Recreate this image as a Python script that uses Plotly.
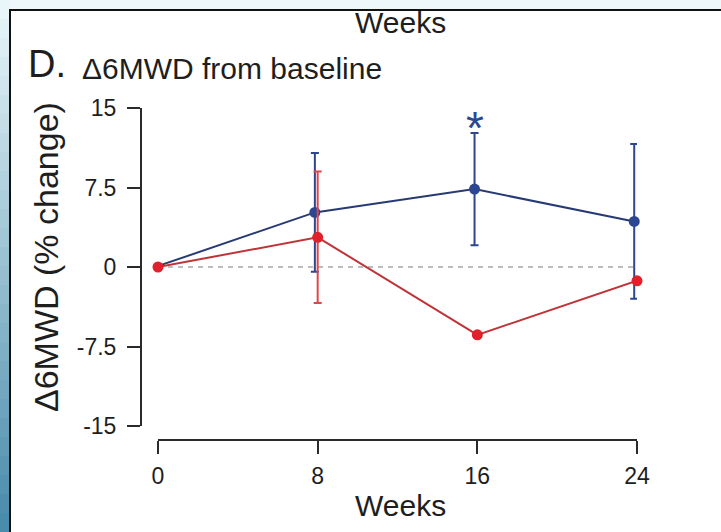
import plotly.graph_objects as go

# ---------------- data ----------------
weeks = [0, 8, 16, 24]
blue_mean = [0.0, 5.15, 7.35, 4.3]
blue_err = [None, 5.6, 5.3, 7.3]
red_mean = [0.0, 2.8, -6.4, -1.3]
red_err = [None, 6.2, None, None]
x_tick_labels = ["0", "8", "16", "24"]
y_tick_vals = [-15, -7.5, 0, 7.5, 15]
y_tick_labels = ["-15", "-7.5", "0", "7.5", "15"]
signif_week = 16

# ---------------- style ----------------
W, H = 721, 532
BLUE = "#2c4690"
BLUE_LINE = "#283a74"
RED = "#e0202a"
RED_LINE = "#bf3439"
AXIS = "#2a2a2a"
TXT = "#1e1e1e"
FONT = "Liberation Sans, Arial, sans-serif"
dodge_blue, dodge_red = -0.14, 0.0


def px(x):
    return x / W


def py(y):
    return 1 - y / H


fig = go.Figure()

fig.add_trace(go.Scatter(
    x=[w + dodge_blue for w in weeks], y=blue_mean,
    mode="lines+markers",
    line=dict(color=BLUE_LINE, width=2),
    marker=dict(color=BLUE, size=11),
    error_y=dict(type="data", array=blue_err, visible=True,
                 color=BLUE, thickness=2, width=4),
    cliponaxis=False, showlegend=False))

fig.add_trace(go.Scatter(
    x=[w + dodge_red for w in weeks], y=red_mean,
    mode="lines+markers",
    line=dict(color=RED_LINE, width=2),
    marker=dict(color=RED, size=11),
    error_y=dict(type="data", array=red_err, visible=True,
                 color="#e0454a", thickness=2, width=4),
    cliponaxis=False, showlegend=False))

shapes = []
# left gradient strip
n = 28
c_top = (232, 245, 249)
c_bot = (74, 140, 171)
for i in range(n):
    t = i / (n - 1)
    c = tuple(int(c_top[k] + (c_bot[k] - c_top[k]) * t) for k in range(3))
    shapes.append(dict(type="rect", xref="paper", yref="paper",
                       x0=-0.01, x1=px(10), y0=1 - (i + 1) / n, y1=1 - i / n,
                       fillcolor="rgb(%d,%d,%d)" % c, line=dict(width=0),
                       layer="below"))
# white panel with border
shapes.append(dict(type="rect", xref="paper", yref="paper",
                   x0=px(10), x1=1.02, y0=-0.02, y1=py(10),
                   fillcolor="white", line=dict(color="#111111", width=2),
                   layer="below"))
# dashed zero line
shapes.append(dict(type="line", xref="x", yref="y",
                   x0=weeks[0], x1=weeks[-1], y0=0, y1=0,
                   line=dict(color="#a8a8a8", width=1.3, dash="5px,5px"),
                   layer="below"))

annotations = [
    dict(text="Weeks", x=px(400), y=py(41), xref="paper", yref="paper",
         xanchor="center", yanchor="bottom", showarrow=False,
         font=dict(family=FONT, size=30, color=TXT)),
    dict(text="D.", x=px(26), y=py(87), xref="paper", yref="paper",
         xanchor="left", yanchor="bottom", showarrow=False,
         font=dict(family=FONT, size=38, color=TXT)),
    dict(text="Δ6MWD from baseline", x=px(80), y=py(87), xref="paper", yref="paper",
         xanchor="left", yanchor="bottom", showarrow=False,
         font=dict(family=FONT, size=30, color=TXT)),
    dict(text="Weeks", x=px(400), y=py(524), xref="paper", yref="paper",
         xanchor="center", yanchor="bottom", showarrow=False,
         font=dict(family=FONT, size=30, color=TXT)),
    dict(text="Δ6MWD (% change)", x=px(46), y=py(257), xref="paper", yref="paper",
         xanchor="center", yanchor="middle", textangle=-90, showarrow=False,
         font=dict(family=FONT, size=34, color=TXT)),
    dict(text="*", x=signif_week + dodge_blue, y=blue_mean[2] + blue_err[2],
         xref="x", yref="y", xanchor="center", yanchor="bottom", yshift=-23,
         showarrow=False, font=dict(family=FONT, size=46, color=BLUE)),
]

fig.update_layout(
    width=W, height=H,
    margin=dict(l=0, r=0, t=0, b=0),
    paper_bgcolor="#eef8fb",
    plot_bgcolor="rgba(0,0,0,0)",
    shapes=shapes,
    annotations=annotations,
    xaxis=dict(domain=[px(158), px(637)], range=[0, 24],
               anchor="free", position=py(440),
               tickvals=weeks, ticktext=x_tick_labels,
               ticks="outside", ticklen=13, tickwidth=2, tickcolor=AXIS,
               showline=True, linewidth=2, linecolor=AXIS,
               showgrid=False, zeroline=False, automargin=False,
               ticklabelstandoff=2,
               tickfont=dict(family=FONT, size=23, color=TXT)),
    yaxis=dict(domain=[py(426), py(108)], range=[-15, 15],
               anchor="free", position=px(141),
               tickvals=y_tick_vals, ticktext=y_tick_labels,
               ticks="outside", ticklen=13, tickwidth=2, tickcolor=AXIS,
               showline=True, linewidth=2, linecolor=AXIS,
               showgrid=False, zeroline=False, automargin=False,
               ticklabelstandoff=6,
               tickfont=dict(family=FONT, size=23, color=TXT)),
)

fig.write_html("out.html")
